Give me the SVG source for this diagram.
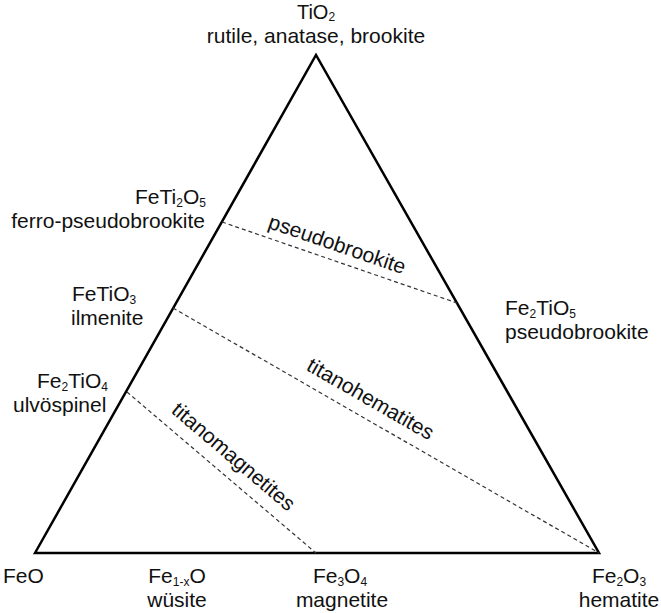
<svg xmlns="http://www.w3.org/2000/svg" width="661" height="613" viewBox="0 0 661 613">
<style>
.t{font-family:"Liberation Sans",Arial,sans-serif;font-size:21px;fill:#111}
.s{font-size:12px}
.edge{fill:none;stroke:#000;stroke-width:2.5}
.dash{fill:none;stroke:#333;stroke-width:1.2;stroke-dasharray:4 3}
</style>
<rect width="661" height="613" fill="#fff"/>
<g id="frame"><polygon class="edge" points="35,553 316,55 599,553"/></g>
<g id="connectors">
<line class="dash" x1="222" y1="222" x2="457" y2="303"/>
<line class="dash" x1="173" y1="308" x2="599" y2="553"/>
<line class="dash" x1="127" y1="392" x2="316" y2="553"/>
</g>
<g id="TiO2">
<text class="t" x="316" y="19" text-anchor="middle" style="font-size:20px">TiO<tspan class="s" dy="2">2</tspan></text>
<text class="t" x="316" y="42.5" text-anchor="middle">rutile, anatase, brookite</text>
</g>
<g id="FeTi2O5">
<text class="t" x="206" y="204" text-anchor="end">FeTi<tspan class="s" dy="3">2</tspan><tspan dy="-3">O</tspan><tspan class="s" dy="3">5</tspan></text>
<text class="t" x="205" y="228" text-anchor="end">ferro-pseudobrookite</text>
</g>
<g id="FeTiO3">
<text class="t" x="72" y="301">FeTiO<tspan class="s" dy="3">3</tspan></text>
<text class="t" x="71" y="325">ilmenite</text>
</g>
<g id="Fe2TiO4">
<text class="t" x="37" y="388">Fe<tspan class="s" dy="3">2</tspan><tspan dy="-3">TiO</tspan><tspan class="s" dy="3">4</tspan></text>
<text class="t" x="13" y="412">ulvöspinel</text>
</g>
<g id="Fe2TiO5">
<text class="t" x="505" y="315">Fe<tspan class="s" dy="3">2</tspan><tspan dy="-3">TiO</tspan><tspan class="s" dy="3">5</tspan></text>
<text class="t" x="505" y="339">pseudobrookite</text>
</g>
<g id="FeO"><text class="t" x="3" y="583">FeO</text></g>
<g id="Fe1-xO">
<text class="t" x="177" y="583" text-anchor="middle">Fe<tspan class="s" dy="3">1-x</tspan><tspan dy="-3">O</tspan></text>
<text class="t" x="177" y="607" text-anchor="middle">wüsite</text>
</g>
<g id="Fe3O4">
<text class="t" x="340" y="583" text-anchor="middle">Fe<tspan class="s" dy="3">3</tspan><tspan dy="-3">O</tspan><tspan class="s" dy="3">4</tspan></text>
<text class="t" x="342" y="607" text-anchor="middle">magnetite</text>
</g>
<g id="Fe2O3">
<text class="t" x="619" y="583" text-anchor="middle">Fe<tspan class="s" dy="3">2</tspan><tspan dy="-3">O</tspan><tspan class="s" dy="3">3</tspan></text>
<text class="t" x="619" y="607" text-anchor="middle">hematite</text>
</g>
<g id="region-labels">
<text class="t" transform="translate(335,251) rotate(19)" text-anchor="middle">pseudobrookite</text>
<text class="t" transform="translate(367,405) rotate(29.9)" text-anchor="middle">titanohematites</text>
<text class="t" transform="translate(229,462) rotate(40.4)" text-anchor="middle">titanomagnetites</text>
</g>
</svg>
